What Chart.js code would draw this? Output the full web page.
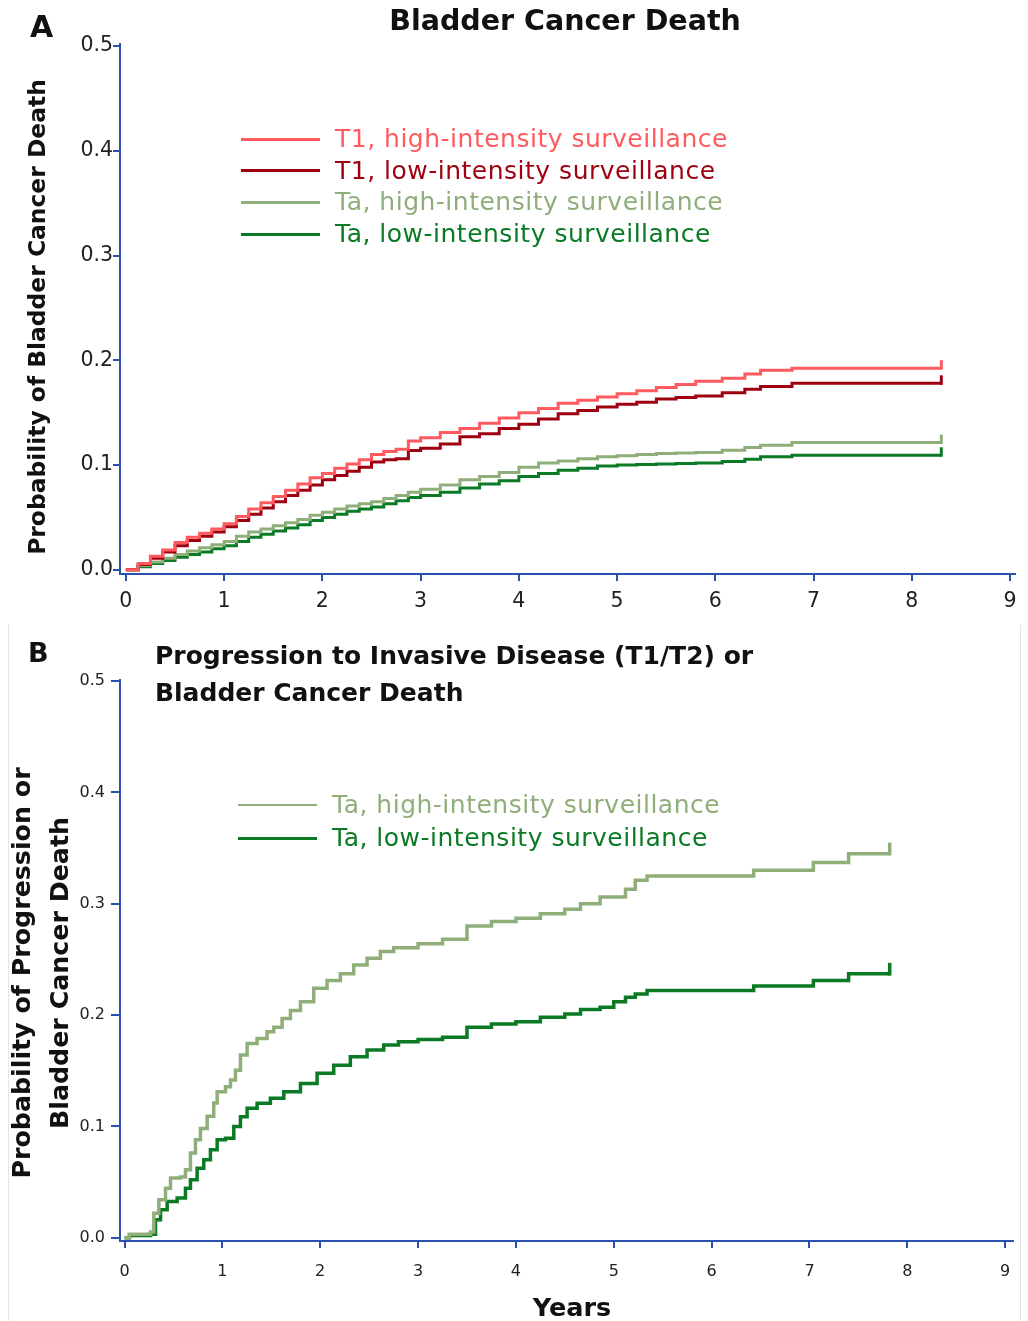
<!DOCTYPE html>
<html>
<head>
<meta charset="utf-8">
<script src="https://cdn.jsdelivr.net/npm/chart.js@4.4.1/dist/chart.umd.min.js"></script>
<style>
  body { margin: 0; background: #fff; width: 1028px; height: 1321px; overflow: hidden; font-family: 'DejaVu Sans', sans-serif; position: relative; }
  .panel { position: absolute; left: 0; width: 1028px; }
  .bold { position: absolute; font-weight: bold; color: #111; white-space: nowrap; }
  .rot { position: absolute; font-weight: bold; color: #111; white-space: nowrap; text-align: center; transform: rotate(-90deg); }
  .frame { position: absolute; left: 8px; top: 625px; width: 1011px; height: 696px; border-left: 1px solid #e4e4e4; border-right: 1px solid #e4e4e4; }
  .legend { position: absolute; }
  .legend .row { position: absolute; left: 0; height: 32px; white-space: nowrap; }
  .legend .ln { position: absolute; top: 16px; }
  .legend .tx { position: absolute; top: 0; line-height: 32px; letter-spacing: 0.5px; }
</style>
</head>
<body>
<div class="frame"></div>
<div class="panel" style="top:0;height:615px"><canvas id="chartA" width="1028" height="615"></canvas></div>
<div class="panel" style="top:620px;height:701px"><canvas id="chartB" width="1028" height="701"></canvas></div>
<div class="bold" style="left:30px;top:9px;font-size:30px;line-height:36px">A</div>
<div class="bold" style="left:0;width:1130px;text-align:center;top:4px;font-size:28.5px;line-height:34px">Bladder Cancer Death</div>
<div class="rot" style="left:-263px;top:302px;width:600px;height:30px;font-size:23.4px;line-height:30px">Probability of Bladder Cancer Death</div>
<div class="bold" style="left:28px;top:637px;font-size:27px;line-height:32px">B</div>
<div class="bold" style="left:155px;top:637px;font-size:25px;line-height:37px">Progression to Invasive Disease (T1/T2) or<br>Bladder Cancer Death</div>
<div class="rot" style="left:-259px;top:935px;width:600px;height:76px;font-size:25.3px;line-height:38px">Probability of Progression or<br>Bladder Cancer Death</div>
<div class="bold" style="left:472px;top:1291px;width:200px;text-align:center;font-size:25.5px;line-height:32px">Years</div>
<div class="legend" id="legendA" style="left:241px;top:123px"></div>
<div class="legend" id="legendB" style="left:238px;top:789px"></div>
<script>
// panel A: bladder cancer death, years since diagnosis
const timesA = [0, 0.125, 0.25, 0.375, 0.5, 0.625, 0.75, 0.875, 1, 1.125, 1.25, 1.375, 1.5, 1.625, 1.75, 1.875,
  2, 2.125, 2.25, 2.375, 2.5, 2.625, 2.75, 2.875, 3, 3.2, 3.4, 3.6, 3.8, 4, 4.2, 4.4, 4.6, 4.8, 5, 5.2, 5.4, 5.6, 5.8,
  6.07, 6.3, 6.46, 6.78, 8.3];
const t1High = [0, 0.006, 0.013, 0.019, 0.026, 0.031, 0.035, 0.039, 0.044, 0.051, 0.058, 0.064, 0.070, 0.076, 0.082, 0.088,
  0.092, 0.097, 0.101, 0.105, 0.110, 0.113, 0.115, 0.123, 0.126, 0.131, 0.135, 0.140, 0.145, 0.150, 0.154, 0.159, 0.162, 0.165, 0.168, 0.171, 0.174, 0.177, 0.180,
  0.183, 0.187, 0.1905, 0.1925, 0.1925];
const t1Low = [0, 0.005, 0.011, 0.017, 0.023, 0.028, 0.032, 0.036, 0.041, 0.047, 0.053, 0.059, 0.065, 0.071, 0.076, 0.081,
  0.086, 0.090, 0.094, 0.098, 0.103, 0.105, 0.106, 0.114, 0.116, 0.120, 0.127, 0.130, 0.135, 0.139, 0.144, 0.149, 0.152, 0.1555, 0.158, 0.160, 0.163, 0.1645, 0.166,
  0.169, 0.1725, 0.175, 0.178, 0.178];
const taHigh = [0, 0.004, 0.0075, 0.011, 0.0145, 0.018, 0.021, 0.024, 0.027, 0.032, 0.036, 0.039, 0.042, 0.045, 0.048, 0.052,
  0.055, 0.058, 0.061, 0.063, 0.065, 0.068, 0.071, 0.074, 0.077, 0.081, 0.086, 0.089, 0.093, 0.098, 0.102, 0.104, 0.106, 0.108, 0.109, 0.110, 0.111, 0.1115, 0.112,
  0.1142, 0.1167, 0.119, 0.1215, 0.1215];
const taLow = [0, 0.003, 0.006, 0.009, 0.012, 0.0145, 0.017, 0.020, 0.023, 0.027, 0.031, 0.034, 0.037, 0.040, 0.043, 0.047,
  0.050, 0.053, 0.056, 0.058, 0.060, 0.063, 0.066, 0.069, 0.071, 0.074, 0.078, 0.082, 0.085, 0.089, 0.092, 0.095, 0.097, 0.099, 0.100, 0.1005, 0.101, 0.1015, 0.102,
  0.1033, 0.1056, 0.108, 0.1094, 0.1094];

// panel B: progression to T1/T2 or bladder cancer death
const timesBHigh = [0, 0.05, 0.266, 0.300, 0.351, 0.419, 0.470, 0.572, 0.623, 0.674, 0.725, 0.776, 0.845, 0.912, 0.947,
  1.032, 1.083, 1.134, 1.185, 1.253, 1.355, 1.457, 1.525, 1.611, 1.696, 1.798, 1.934, 2.070, 2.206, 2.342, 2.479, 2.615, 2.751,
  3.0, 3.25, 3.5, 3.75, 4.0, 4.25, 4.5, 4.66, 4.86, 5.12, 5.22, 5.34, 6.43, 7.04, 7.40, 7.82];
const progHigh = [0, 0.003, 0.005, 0.022, 0.034, 0.0445, 0.0535, 0.0544, 0.061, 0.076, 0.088, 0.098, 0.109, 0.121, 0.131,
  0.1356, 0.1416, 0.1505, 0.164, 0.1744, 0.179, 0.185, 0.189, 0.197, 0.204, 0.212, 0.224, 0.231, 0.237, 0.245, 0.251, 0.257, 0.2605,
  0.264, 0.268, 0.280, 0.284, 0.287, 0.291, 0.295, 0.300, 0.306, 0.313, 0.321, 0.325, 0.330, 0.337, 0.345, 0.345];
const timesBLow = [0, 0.05, 0.266, 0.317, 0.368, 0.436, 0.538, 0.623, 0.674, 0.742, 0.810, 0.878, 0.947, 1.032, 1.117,
  1.185, 1.253, 1.355, 1.491, 1.628, 1.798, 1.968, 2.138, 2.308, 2.479, 2.649, 2.80,
  3.0, 3.25, 3.5, 3.75, 4.0, 4.25, 4.5, 4.66, 4.86, 5.0, 5.12, 5.22, 5.34, 6.43, 7.04, 7.40, 7.82];
const progLow = [0, 0.002, 0.003, 0.016, 0.025, 0.0325, 0.0356, 0.0445, 0.052, 0.0624, 0.070, 0.079, 0.088, 0.0893, 0.0998,
  0.1087, 0.1162, 0.1207, 0.1252, 0.131, 0.1386, 0.1476, 0.155, 0.1625, 0.1685, 0.173, 0.176,
  0.178, 0.180, 0.189, 0.192, 0.194, 0.198, 0.201, 0.205, 0.207, 0.212, 0.216, 0.219, 0.222, 0.226, 0.231, 0.237, 0.237];

const xTicks = [0, 1, 2, 3, 4, 5, 6, 7, 8, 9];
const yTicks = [0, 0.1, 0.2, 0.3, 0.4, 0.5];

const namesA = ['T1, high-intensity surveillance', 'T1, low-intensity surveillance', 'Ta, high-intensity surveillance', 'Ta, low-intensity surveillance'];
const namesB = ['Ta, high-intensity surveillance', 'Ta, low-intensity surveillance'];
const colT1High = '#ff5a60';
const colT1Low = '#9e0010';
const colTaHigh = '#8fae7a';
const colTaLow = '#0b7a25';
const axisColor = '#2c50ad';

Chart.defaults.font.family = "'DejaVu Sans', sans-serif";
Chart.defaults.color = '#222';

function pts(xs, ys) {
  return xs.map((x, i) => ({ x: x, y: ys[i] }));
}

function line(label, xs, ys, color, w) {
  return {
    label: label,
    data: pts(xs, ys),
    borderColor: color,
    borderWidth: w,
    pointRadius: 0,
    stepped: true,
    fill: false,
    borderJoinStyle: 'miter',
    borderCapStyle: 'butt'
  };
}

// small vertical tick at the last point of each curve (censoring mark)
const censorTicks = {
  id: 'censorTicks',
  afterDatasetsDraw(chart, args, opts) {
    const ctx = chart.ctx;
    chart.data.datasets.forEach((ds, i) => {
      const meta = chart.getDatasetMeta(i);
      const last = meta.data[meta.data.length - 1];
      ctx.save();
      ctx.strokeStyle = ds.borderColor;
      ctx.lineWidth = ds.borderWidth;
      ctx.beginPath();
      ctx.moveTo(last.x, last.y + ds.borderWidth / 2);
      ctx.lineTo(last.x, last.y - opts.len);
      ctx.stroke();
      ctx.restore();
    });
  }
};

function axes(o) {
  return {
    x: {
      type: 'linear', min: o.xmin, max: o.xmax,
      afterBuildTicks: s => { s.ticks = xTicks.map(v => ({ value: v })); },
      afterFit: s => { s.height = o.xh; },
      ticks: { font: { size: o.tick }, color: '#222', padding: o.xpad, maxRotation: 0, callback: v => String(v) },
      grid: { drawOnChartArea: false, drawTicks: true, tickLength: 7, color: axisColor, lineWidth: 2 },
      border: { display: true, color: axisColor, width: 2 }
    },
    y: {
      type: 'linear', min: o.ymin, max: o.ymax,
      afterBuildTicks: s => { s.ticks = yTicks.map(v => ({ value: v })); },
      afterFit: s => { s.width = 120; },
      ticks: { font: { size: o.tick }, color: '#222', padding: o.ypad, callback: v => v.toFixed(1) },
      grid: { drawOnChartArea: false, drawTicks: true, tickLength: o.ytl, color: axisColor, lineWidth: 2 },
      border: { display: true, color: axisColor, width: 2 }
    }
  };
}

new Chart(document.getElementById('chartA'), {
  type: 'line',
  data: {
    datasets: [
      line(namesA[0], timesA, t1High, colT1High, 3),
      line(namesA[1], timesA, t1Low, colT1Low, 3),
      line(namesA[2], timesA, taHigh, colTaHigh, 3),
      line(namesA[3], timesA, taLow, colTaLow, 3)
    ]
  },
  options: {
    responsive: false,
    animation: false,
    layout: { padding: { top: 44, right: 13, left: 0, bottom: 0 } },
    plugins: { legend: { display: false }, tooltip: { enabled: false }, title: { display: false }, censorTicks: { len: 8 } },
    scales: axes({ xmin: -0.06, xmax: 9.05, ymin: -0.004, ymax: 0.502, xh: 41, tick: 20.5, xpad: 8, ypad: 0, ytl: 7 })
  },
  plugins: [censorTicks]
});

new Chart(document.getElementById('chartB'), {
  type: 'line',
  data: {
    datasets: [
      line(namesB[0], timesBHigh, progHigh, colTaHigh, 3.5),
      line(namesB[1], timesBLow, progLow, colTaLow, 3.5)
    ]
  },
  options: {
    responsive: false,
    animation: false,
    layout: { padding: { top: 60, right: 15, left: 0, bottom: 0 } },
    plugins: { legend: { display: false }, tooltip: { enabled: false }, title: { display: false }, censorTicks: { len: 11 } },
    scales: axes({ xmin: -0.046, xmax: 9.08, ymin: -0.003, ymax: 0.501, xh: 80, tick: 16, xpad: 14, ypad: 6, ytl: 9 })
  },
  plugins: [censorTicks]
});

// legends inside the plot areas
function legend(id, names, colors, widths, step, size) {
  const box = document.getElementById(id);
  names.forEach((n, i) => {
    const row = document.createElement('div');
    row.className = 'row';
    row.style.top = (i * step) + 'px';
    row.innerHTML = '<div class="ln" style="left:0;width:79px;border-top:' + widths[i] + 'px solid ' + colors[i] + ';margin-top:' + (-widths[i] / 2) + 'px"></div>' +
      '<div class="tx" style="left:94px;font-size:' + size + 'px;color:' + colors[i] + '">' + n + '</div>';
    box.appendChild(row);
  });
}
legend('legendA', namesA, [colT1High, colT1Low, colTaHigh, colTaLow], [3, 3, 3, 3], 31.7, 25);
legend('legendB', namesB, [colTaHigh, colTaLow], [2, 3], 33, 25);
</script>
</body>
</html>
